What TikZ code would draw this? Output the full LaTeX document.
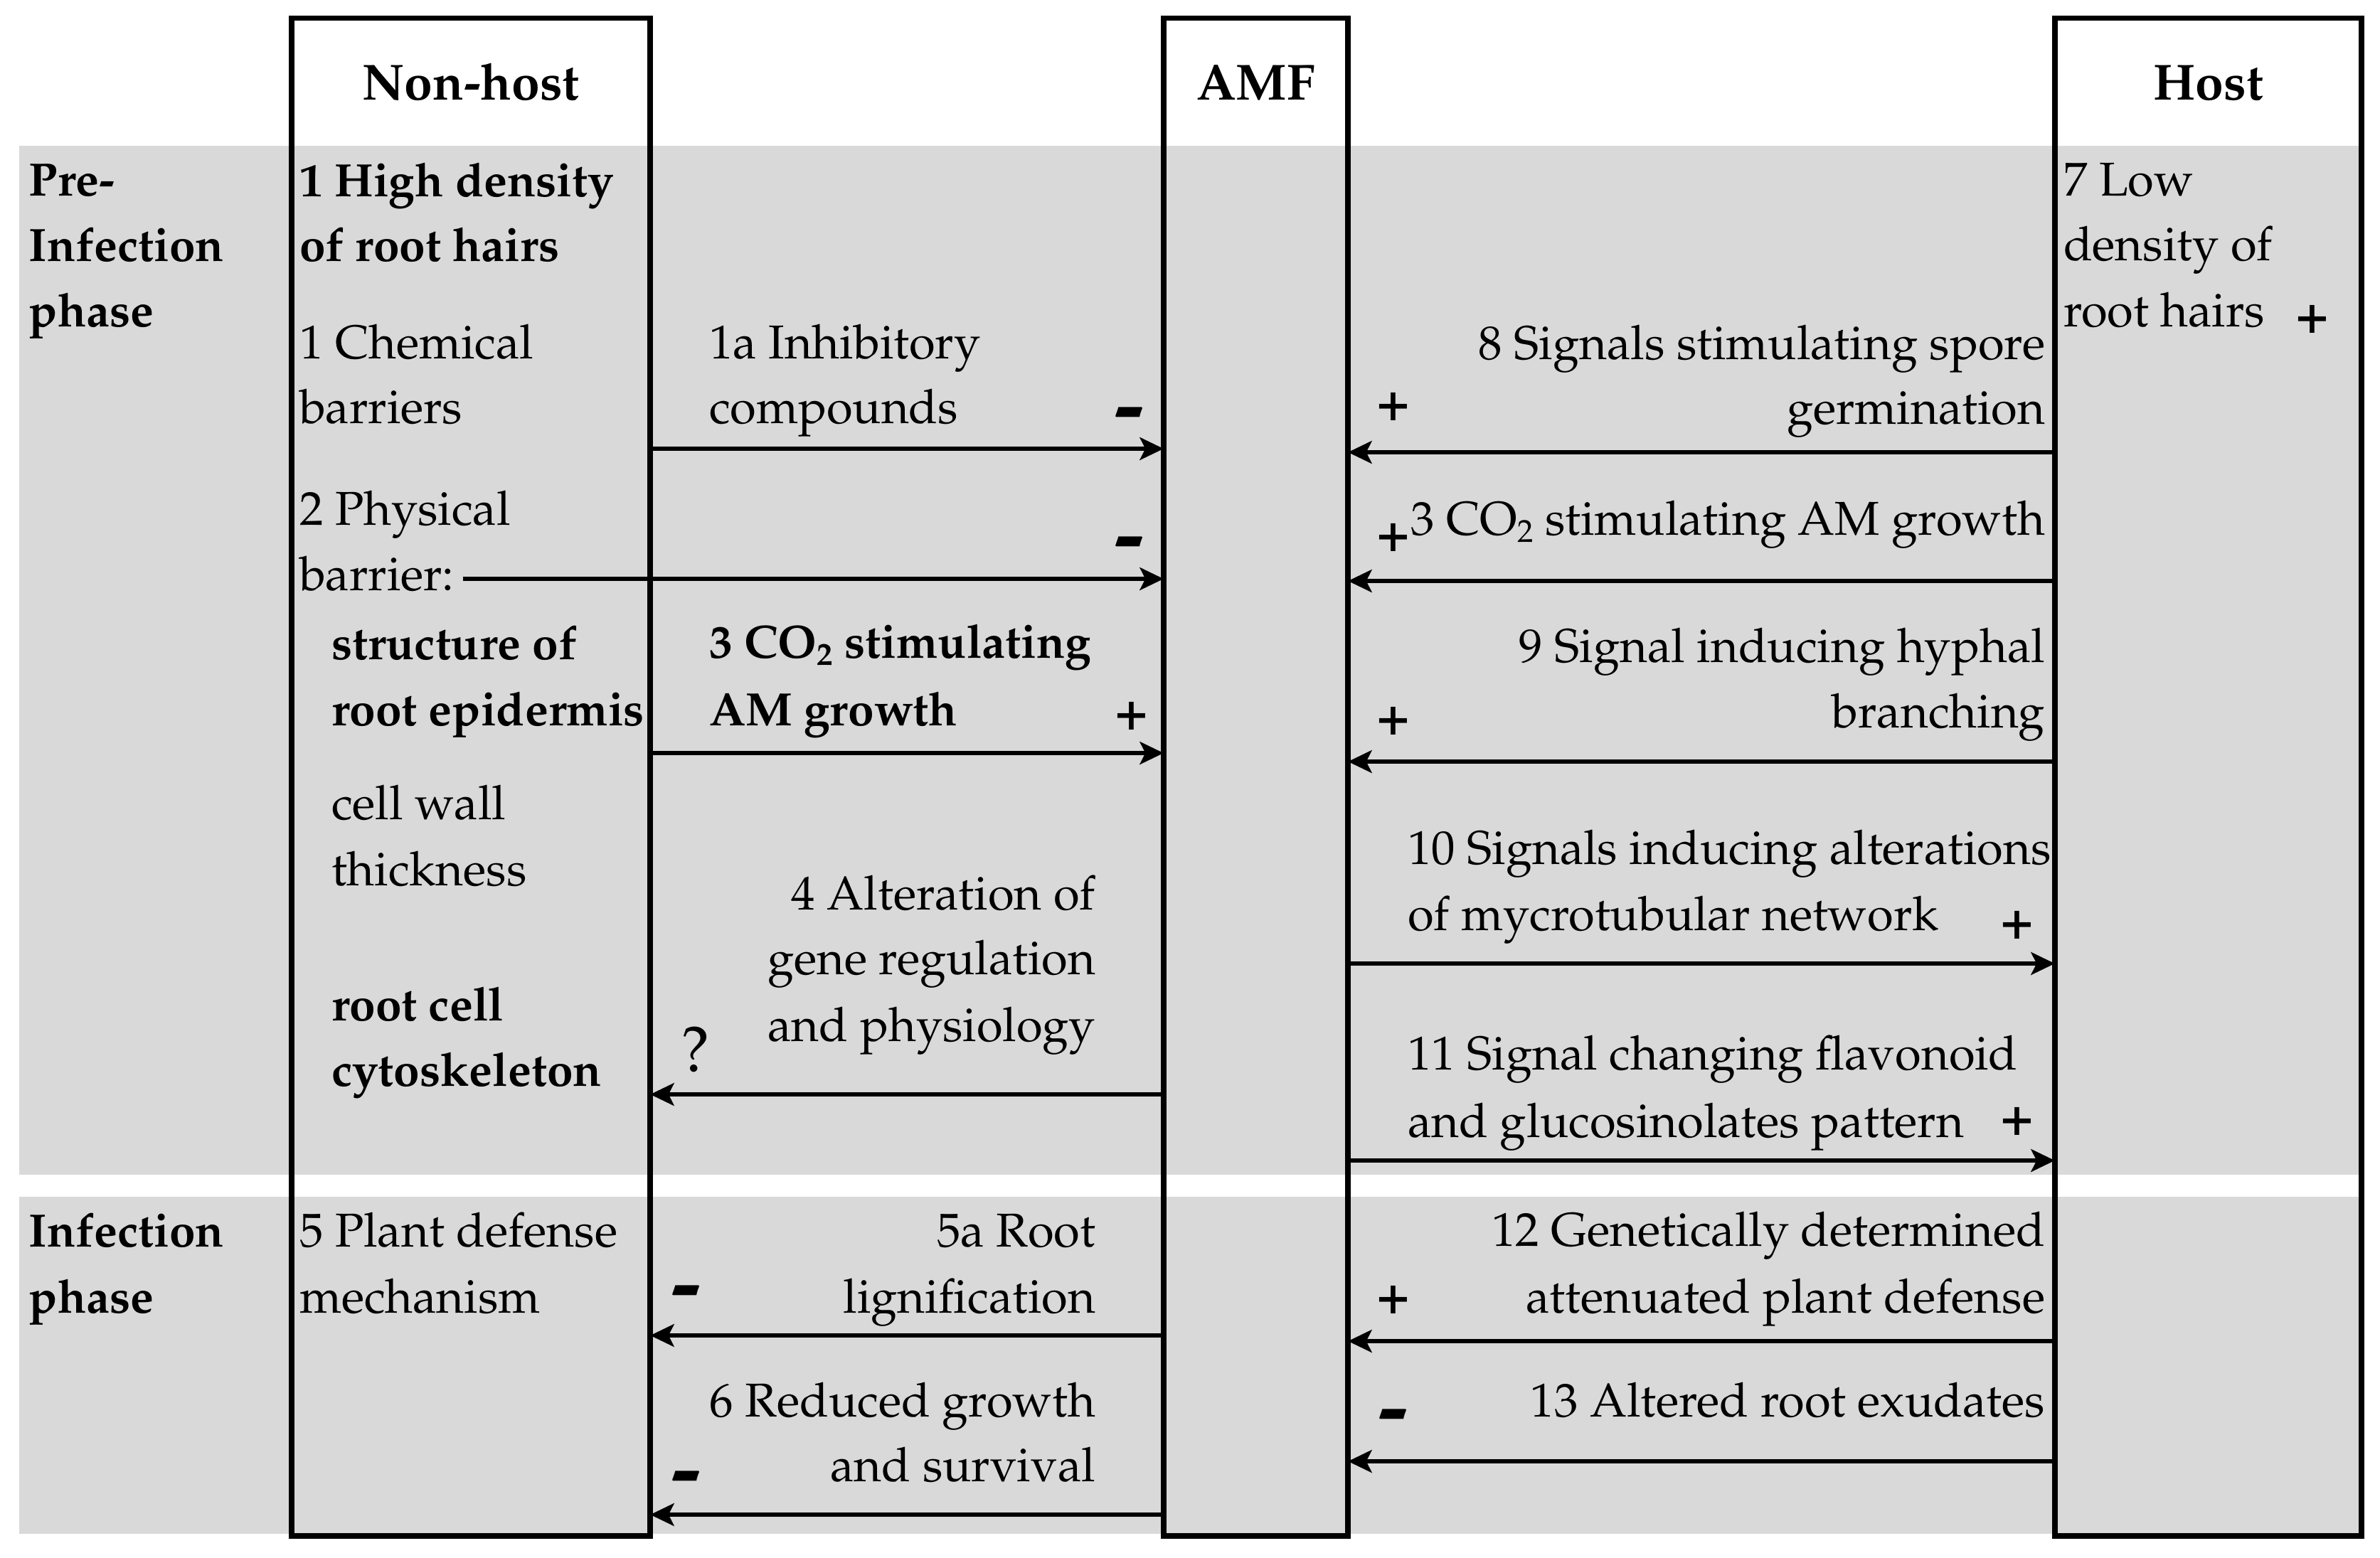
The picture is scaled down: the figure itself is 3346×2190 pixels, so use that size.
\documentclass[tikz,border=0pt]{standalone}
\usepackage[T1]{fontenc}
\usepackage{mathpazo}
\usetikzlibrary{arrows.meta}
\definecolor{bandgray}{RGB}{217,217,217}
\newcommand{\cosub}{CO\raisebox{-3pt}{\fontsize{12.7}{13}\selectfont 2}}
\tikzset{
  box/.style={draw=black, line width=2.2pt, inner sep=0pt, outer sep=0pt, rectangle},
  arr/.style={line width=1.8pt, -{Stealth[length=9.5pt,width=9pt,inset=2.2pt]}},
  txt/.style={inner sep=0pt, outer sep=0pt, font=\fontsize{19}{23}\selectfont},
  btxt/.style={inner sep=0pt, outer sep=0pt, font=\fontsize{18.7}{23}\selectfont\bfseries},
  head/.style={inner sep=0pt, outer sep=0pt, font=\fontsize{20.3}{24}\selectfont\bfseries},
  plussign/.style={inner sep=0pt, outer sep=0pt, font=\fontsize{22}{22}\selectfont\bfseries},
  minussign/.style={inner sep=0pt, outer sep=0pt, anchor=base, font=\fontsize{36}{36}\selectfont\bfseries},
  qsign/.style={inner sep=0pt, outer sep=0pt, anchor=base, font=\fontsize{26}{26}\selectfont},
}
\begin{document}
\begin{tikzpicture}[x=0.01cm,y=-0.01cm]
\useasboundingbox (0,0) rectangle (3346,2190);
% bands
\fill[bandgray] (27,205) rectangle (3320,1652);
\fill[bandgray] (27,1683) rectangle (3320,2157);
% boxes
\node[box, minimum width=5.04cm, minimum height=21.33cm] (nonhost) at (662,1092.5) {};
\node[box, minimum width=2.59cm, minimum height=21.33cm] (amf) at (1765.5,1092.5) {};
\node[box, minimum width=4.31cm, minimum height=21.33cm] (host) at (3104.5,1092.5) {};
% headers
\node[head, anchor=base] (hnon) at (662,140) {Non-host};
\node[head, anchor=base] (hamf) at (1765.5,140) {AMF};
\node[head, anchor=base] (hhost) at (3104.5,140) {Host};
% phase labels
\node[btxt, anchor=base west] (ph1) at (41,275) {Pre-};
\node[btxt, anchor=base west] (ph2) at (41,367) {Infection};
\node[btxt, anchor=base west] (ph3) at (41,459) {phase};
\node[btxt, anchor=base west] (ph4) at (41,1753) {Infection};
\node[btxt, anchor=base west] (ph5) at (41,1846) {phase};
% non-host column
\node[btxt, anchor=base west] (n1) at (421,276) {1 High density};
\node[btxt, anchor=base west] (n2) at (421,367) {of root hairs};
\node[txt, anchor=base west] (n3) at (421,504) {1 Chemical};
\node[txt, anchor=base west] (n4) at (421,595) {barriers};
\node[txt, anchor=base west] (n5) at (421,738) {2 Physical};
\node[txt, anchor=base west] (barr) at (421,830) {barrier:};
\node[btxt, anchor=base west] (n7) at (466,927) {structure of};
\node[btxt, anchor=base west] (n8) at (466,1020) {root epidermis};
\node[txt, anchor=base west] (n9) at (466,1152) {cell wall};
\node[txt, anchor=base west] (n10) at (466,1245) {thickness};
\node[btxt, anchor=base west] (n11) at (466,1435) {root cell};
\node[btxt, anchor=base west] (n12) at (466,1527) {cytoskeleton};
\node[txt, anchor=base west] (n13) at (421,1753) {5 Plant defense};
\node[txt, anchor=base west] (n14) at (421,1846) {mechanism};
% host column
\node[txt, anchor=base west] (h1) at (2901,275) {7 Low};
\node[txt, anchor=base west] (h2) at (2901,366) {density of};
\node[txt, anchor=base west] (h3) at (2901,459) {root hairs};
\node[plussign] (hp) at (3251,449) {+};
% arrow levels
\coordinate (a1) at (0,631);
\coordinate (a2) at (0,814);
\coordinate (a3) at (0,1059);
\coordinate (a4) at (0,1539);
\coordinate (a5) at (0,1878);
\coordinate (a6) at (0,2130);
\coordinate (b8) at (0,636);
\coordinate (b3) at (0,817);
\coordinate (b9) at (0,1071);
\coordinate (b10) at (0,1355);
\coordinate (b11) at (0,1632);
\coordinate (b12) at (0,1886);
\coordinate (b13) at (0,2055);
% left labels
\node[txt, anchor=base west] (l1a) at (997,504) {1a Inhibitory};
\node[txt, anchor=base west] (l1b) at (997,595) {compounds};
\node[minussign] (m1) at (1588,611) {-};
\node[minussign] (m2) at (1588,793) {-};
\node[btxt, anchor=base west] (l3a) at (997,925) {3 \cosub{} stimulating};
\node[btxt, anchor=base west] (l3b) at (997,1020) {AM growth};
\node[plussign] (p3) at (1591,1007) {+};
\node[txt, anchor=base east] (l4a) at (1540,1279) {4 Alteration of};
\node[txt, anchor=base east] (l4b) at (1540,1370) {gene regulation};
\node[txt, anchor=base east] (l4c) at (1540,1464) {and physiology};
\node[qsign] (q4) at (978,1507) {?};
\node[txt, anchor=base east] (l5a) at (1540,1753) {5a Root};
\node[txt, anchor=base east] (l5b) at (1540,1846) {lignification};
\node[minussign] (m5) at (965,1846) {-};
\node[txt, anchor=base east] (l6a) at (1540,1992) {6 Reduced growth};
\node[txt, anchor=base east] (l6b) at (1540,2083) {and survival};
\node[minussign] (m6) at (965,2107) {-};
% right labels
\node[txt, anchor=base east] (r8a) at (2875,505) {8 Signals stimulating spore};
\node[txt, anchor=base east] (r8b) at (2875,596) {germination};
\node[plussign] (p8) at (1959,572) {+};
\node[txt, anchor=base east] (r3) at (2875,752) {3 \cosub{} stimulating AM growth};
\node[plussign] (p3r) at (1959,756) {+};
\node[txt, anchor=base east] (r9a) at (2875,931) {9 Signal inducing hyphal};
\node[txt, anchor=base east] (r9b) at (2875,1023) {branching};
\node[plussign] (p9) at (1959,1014) {+};
\node[txt, anchor=base west] (r10a) at (1979,1215) {10 Signals inducing alterations};
\node[txt, anchor=base west] (r10b) at (1979,1308) {of mycrotubular network};
\node[plussign] (p10) at (2836,1301) {+};
\node[txt, anchor=base west] (r11a) at (1979,1504) {11 Signal changing flavonoid};
\node[txt, anchor=base west] (r11b) at (1979,1599) {and glucosinolates pattern};
\node[plussign] (p11) at (2836,1577) {+};
\node[txt, anchor=base east] (r12a) at (2875,1752) {12 Genetically determined};
\node[txt, anchor=base east] (r12b) at (2875,1846) {attenuated plant defense};
\node[plussign] (p12) at (1959,1828) {+};
\node[txt, anchor=base east] (r13) at (2875,1992) {13 Altered root exudates};
\node[minussign] (m13) at (1959,2020) {-};
% arrows left
\draw[arr] (nonhost.east |- a1) -- (amf.west |- a1);
\draw[arr, shorten <=3.4pt] (barr.east |- a2) -- (amf.west |- a2);
\draw[arr] (nonhost.east |- a3) -- (amf.west |- a3);
\draw[arr] (amf.west |- a4) -- (nonhost.east |- a4);
\draw[arr] (amf.west |- a5) -- (nonhost.east |- a5);
\draw[arr] (amf.west |- a6) -- (nonhost.east |- a6);
% arrows right
\draw[arr] (host.west |- b8) -- (amf.east |- b8);
\draw[arr] (host.west |- b3) -- (amf.east |- b3);
\draw[arr] (host.west |- b9) -- (amf.east |- b9);
\draw[arr] (amf.east |- b10) -- (host.west |- b10);
\draw[arr] (amf.east |- b11) -- (host.west |- b11);
\draw[arr] (host.west |- b12) -- (amf.east |- b12);
\draw[arr] (host.west |- b13) -- (amf.east |- b13);
\end{tikzpicture}
\end{document}
